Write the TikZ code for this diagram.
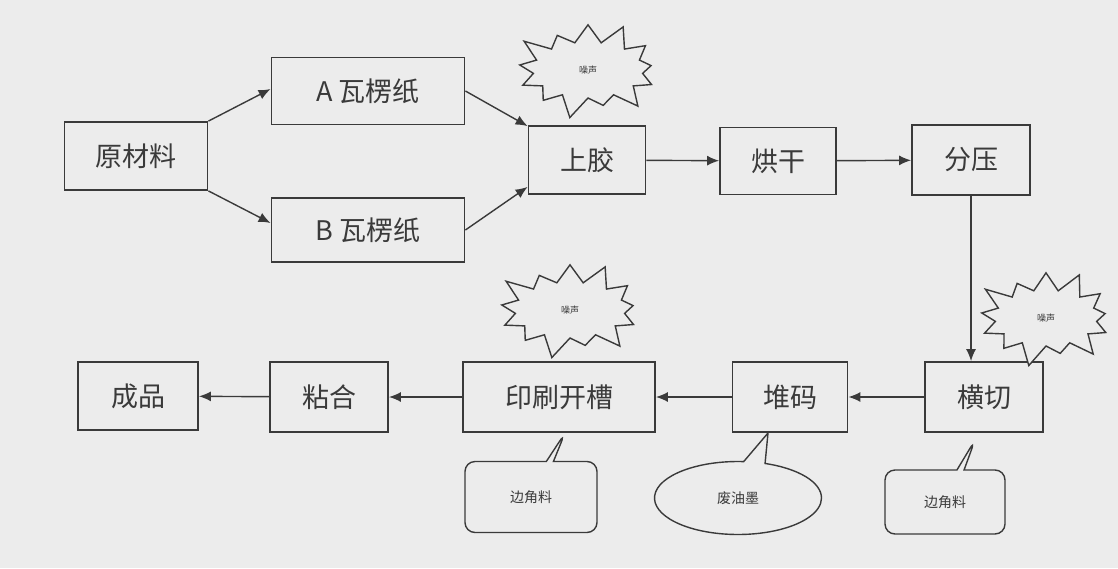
\documentclass[tikz,border=0pt]{standalone}
\usepackage{fontspec}
\setmainfont{Noto Sans CJK SC}
\usetikzlibrary{shapes.symbols,shapes.callouts,arrows.meta}
\definecolor{bg}{HTML}{ECECEC}
\definecolor{ln}{HTML}{3A3A3A}
\begin{document}
\begin{tikzpicture}[x=1pt,y=-1pt,
  box/.style={draw=ln,line width=1.8pt,fill=bg,minimum width=#1,inner sep=0pt,font=\fontsize{27}{30}\selectfont,text=ln},
  box/.default=118pt,
  arr/.style={draw=ln,line width=1.4pt,-{Latex[length=12pt,width=10pt]}},
  burst/.style={starburst,starburst points=13,starburst point height=24pt,draw=ln,line width=1.4pt,fill=bg,font=\fontsize{9}{10}\selectfont,text=ln,minimum width=158pt,minimum height=104pt,inner sep=0pt},
  note/.style={rectangle callout,rounded corners=10pt,draw=ln,line width=1.4pt,fill=bg,font=\fontsize{14}{15}\selectfont,text=ln,inner sep=0pt},
  onote/.style={ellipse callout,draw=ln,line width=1.4pt,fill=bg,font=\fontsize{14}{15}\selectfont,text=ln,inner sep=0pt}]
\fill[bg] (0,0) rectangle (1118,568);
\useasboundingbox (0,0) rectangle (1118,568);
% boxes
\node[box=143pt,minimum height=68pt] (raw) at (136,156) {原材料};
\node[box=193pt,minimum height=67pt] (A) at (368,91) {A 瓦楞纸};
\node[box=193pt,minimum height=64pt] (B) at (368,230) {B 瓦楞纸};
\node[box=117pt,minimum height=68pt] (glue) at (587,160) {上胶};
\node[box=116pt,minimum height=67pt] (dry) at (778,161) {烘干};
\node[box=118pt,minimum height=70pt] (press) at (971,160) {分压};
\node[box=118pt,minimum height=70pt] (cut) at (984,397) {横切};
\node[box=115pt,minimum height=70pt] (stack) at (790,397) {堆码};
\node[box=192pt,minimum height=70pt] (print) at (559,397) {印刷开槽};
\node[box=118pt,minimum height=70pt] (bond) at (329,397) {粘合};
\node[box=120pt,minimum height=68pt] (prod) at (138,396) {成品};
% bursts
\pgfmathsetseed{7}
\node[burst] (n1) at (588,70) {噪声};
\pgfmathsetseed{11}
\node[burst] (n2) at (570,310) {噪声};
\pgfmathsetseed{5}
\node[burst,minimum width=150pt] (n3) at (1046,318) {噪声};
% connectors
\draw[arr] (raw.north east) -- ([yshift=2pt]A.west);
\draw[arr] (raw.south east) -- ([yshift=7pt]B.west);
\draw[arr] (A.east) -- ([yshift=-1pt]glue.north west);
\draw[arr] (B.east) -- ([yshift=8pt]glue.south west);
\draw[arr] (glue) -- (dry);
\draw[arr] (dry) -- (press);
\draw[arr] (press.south) -- (press.south |- cut.north);
\draw[arr] (cut) -- (stack);
\draw[arr] (stack) -- (print);
\draw[arr] (print) -- (bond);
\draw[arr] (bond) -- (prod);
% callouts
\node[note,minimum width=132pt,minimum height=71pt,callout absolute pointer={(565,433)}] (c1) at (531,497) {边角料};
\node[onote,minimum width=167pt,minimum height=73pt,callout absolute pointer={(768,433)}] (c2) at (738,498) {废油墨};
\node[note,minimum width=120pt,minimum height=64pt,callout absolute pointer={(975,440)}] (c3) at (945,502) {边角料};
\end{tikzpicture}
\end{document}
